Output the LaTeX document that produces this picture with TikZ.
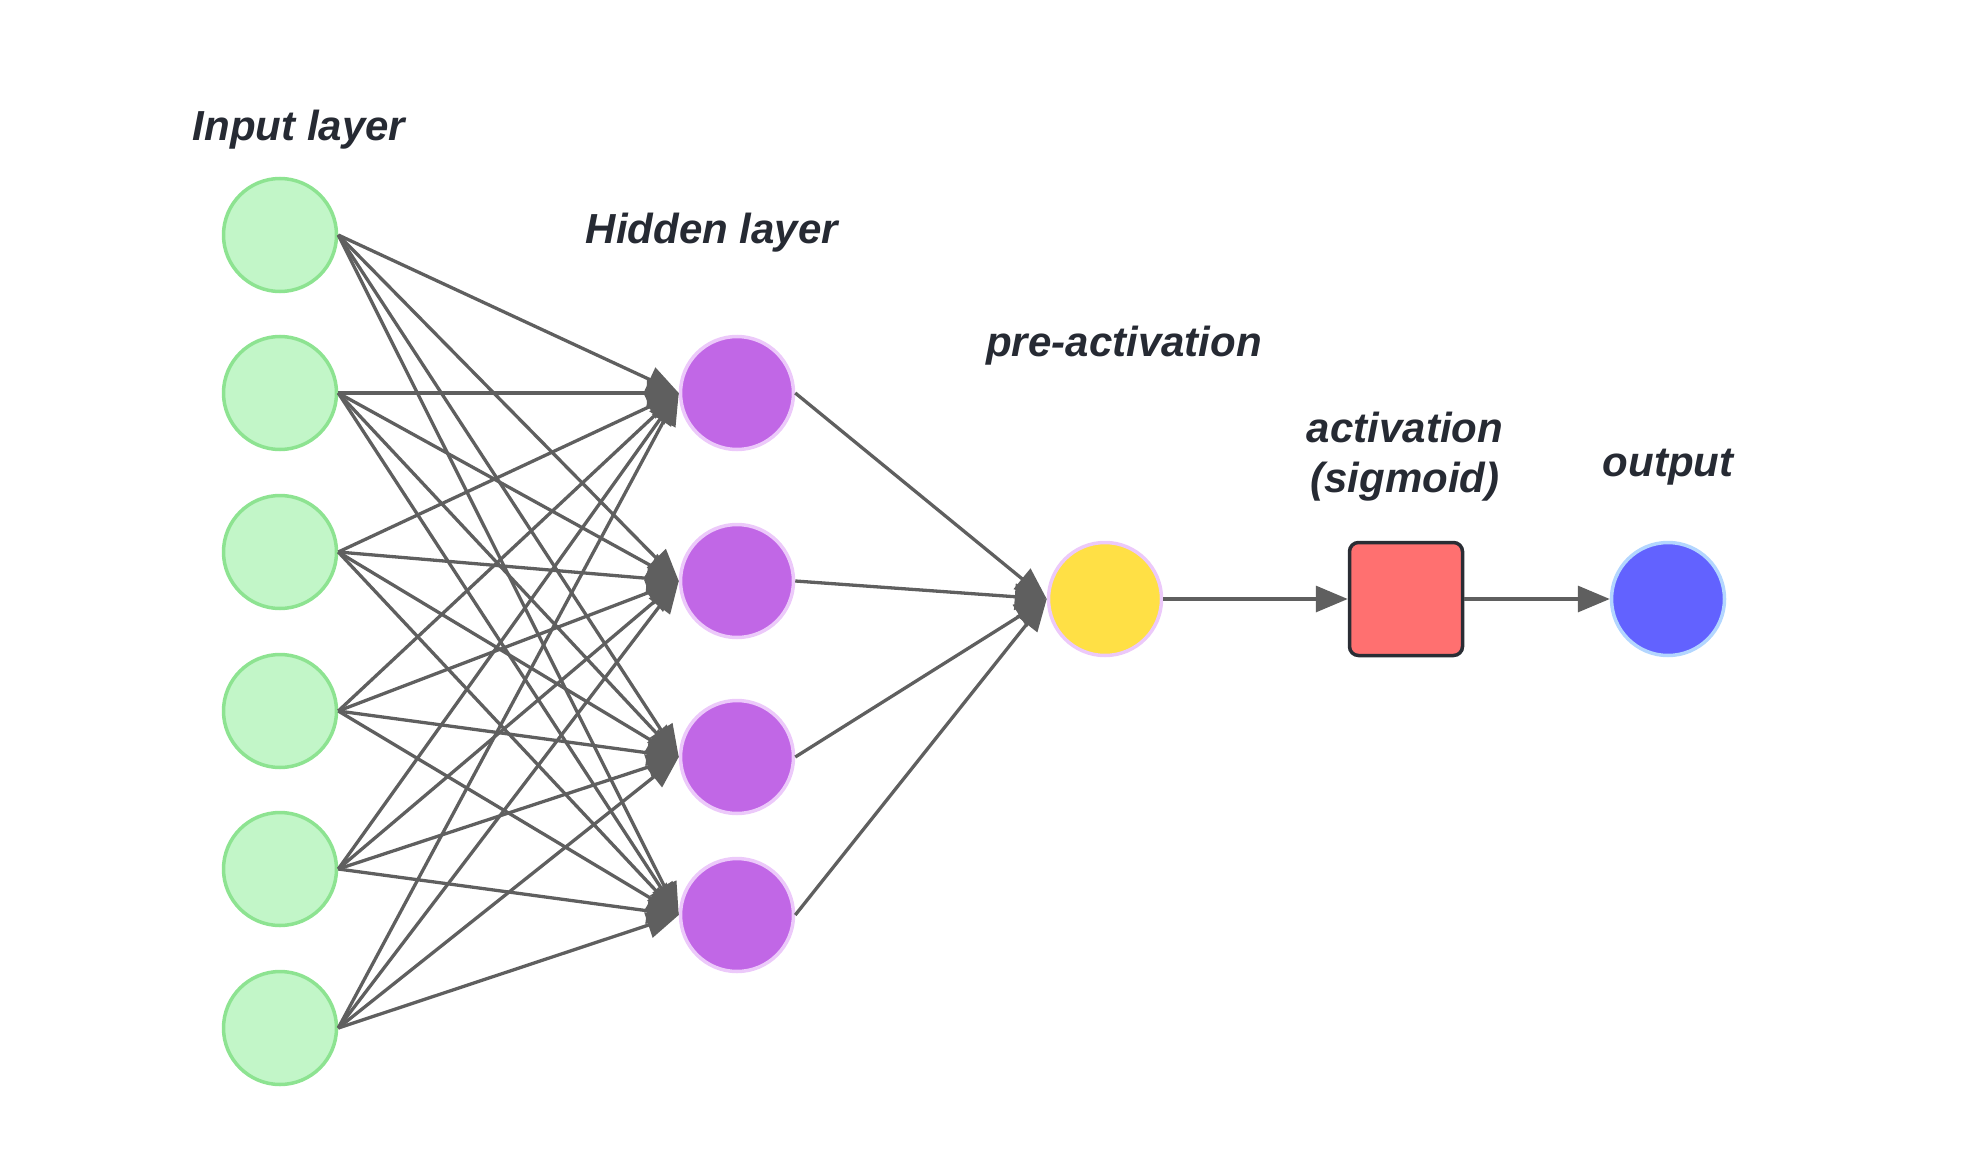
\documentclass[tikz,border=0pt]{standalone}
\usepackage{fontspec}
\setmainfont{Liberation Sans}
\usetikzlibrary{arrows.meta}
\definecolor{edgec}{HTML}{5F5F5F}
\definecolor{txtc}{HTML}{262A33}
\definecolor{inF}{HTML}{C2F6C8}
\definecolor{inD}{HTML}{8DE391}
\definecolor{hidF}{HTML}{C167E6}
\definecolor{hidD}{HTML}{ECC9FA}
\definecolor{preF}{HTML}{FFE045}
\definecolor{sqF}{HTML}{FF7070}
\definecolor{sqD}{HTML}{2A2D34}
\definecolor{outF}{HTML}{6262FF}
\definecolor{outD}{HTML}{B3D6FF}
\tikzset{
  neuron/.style={circle, minimum size=113pt, inner sep=0pt, line width=3.5pt},
  innode/.style={neuron, fill=inF, draw=inD},
  hidnode/.style={neuron, fill=hidF, draw=hidD},
  prenode/.style={neuron, fill=preF, draw=hidD},
  outnode/.style={neuron, fill=outF, draw=outD},
  sqnode/.style={rectangle, rounded corners=9pt, minimum size=113pt, inner sep=0pt, line width=3.5pt, fill=sqF, draw=sqD},
  lbl/.style={text=txtc, font=\fontsize{42}{50}\selectfont\bfseries\itshape, align=center, inner sep=0pt},
  conn/.style={draw=edgec, line width=3.3pt, -{Triangle[length=32pt,width=26pt]}},
}
\begin{document}
\begin{tikzpicture}[x=1pt,y=-1pt]
\useasboundingbox (0,0) rectangle (1969,1161);
% input layer
\foreach \i/\y in {1/235,2/393,3/552,4/711,5/869,6/1028}
  \node[innode] (i\i) at (280,\y) {};
% hidden layer
\foreach \j/\y in {1/393,2/581,3/757,4/915}
  \node[hidnode] (h\j) at (737,\y) {};
\node[prenode] (pre) at (1105,599) {};
\node[sqnode] (act) at (1406,599) {};
\node[outnode] (out) at (1668,599) {};
% labels
\node[lbl] (lin) at (299,130) {Input layer};
\node[lbl] (lhid) at (712,233) {Hidden layer};
\node[lbl] (lpre) at (1124,346) {pre-activation};
\node[lbl] (lact) at (1405,457) {activation\\(sigmoid)};
\node[lbl] (lout) at (1668,467) {output};
% connections
\foreach \i in {1,...,6}
  \foreach \j in {1,...,4}
    \draw[conn] (i\i.east) -- (h\j.west);
\foreach \j in {1,...,4}
  \draw[conn] (h\j.east) -- (pre.west);
\draw[conn] (pre.east) -- (act.west);
\draw[conn] (act.east) -- (out.west);
\end{tikzpicture}
\end{document}
